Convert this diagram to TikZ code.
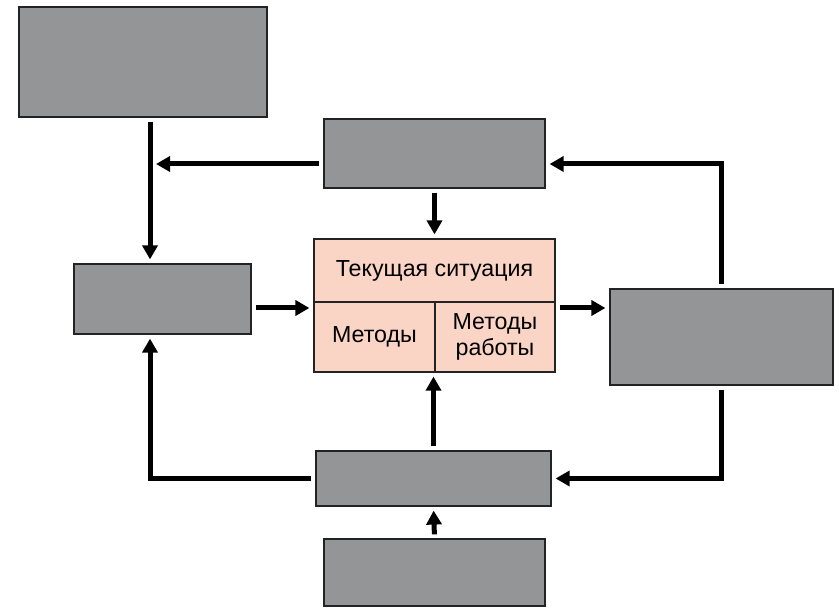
\documentclass[tikz,border=0pt]{standalone}
\usepackage{fontspec}
\setmainfont{Liberation Sans}
\usetikzlibrary{arrows.meta}
\definecolor{boxgray}{RGB}{148,149,151}
\definecolor{peach}{RGB}{250,212,196}
\definecolor{edgegray}{RGB}{35,35,35}

\begin{document}
\begin{tikzpicture}[x=0.5pt,y=-0.5pt,
  block/.style={draw=edgegray,fill=boxgray,line width=0.6pt,inner sep=0pt},
  cell/.style={draw=edgegray,fill=peach,line width=0.6pt,inner sep=0pt,align=center,
    font=\fontsize{11.6}{13}\selectfont},
  arr/.style={line width=2.5pt,-{Triangle[length=7pt,width=7.5pt]},shorten <=2pt,shorten >=2pt}]
  \useasboundingbox (0,0) rectangle (839,608);
  \node[block,minimum width=124pt,minimum height=55pt] (boxA) at (143,62) {};
  \node[block,minimum width=110.5pt,minimum height=34.5pt] (boxB) at (434.5,153.5) {};
  \node[block,minimum width=88.5pt,minimum height=35pt] (boxC) at (162.5,299) {};
  \node[block,minimum width=111.5pt,minimum height=48pt] (boxD) at (721.5,337) {};
  \node[block,minimum width=117.5pt,minimum height=27.5pt] (boxE) at (433.5,478.5) {};
  \node[block,minimum width=110.5pt,minimum height=33.5pt] (boxF) at (434.5,572.5) {};
  \node[cell,minimum width=120.5pt,minimum height=31.5pt] (cur) at (434.5,270.5) {Текущая ситуация};
  \node[cell,minimum width=60.5pt,minimum height=35pt] (meth) at (374.5,337) {Методы};
  \node[cell,minimum width=60pt,minimum height=35pt] (work) at (495,337) {Методы\\работы};
  \coordinate (j1) at (150,164);
  \draw[arr] (boxA.south -| j1) -- (boxC.north -| j1);
  \draw[arr,shorten >=3pt] ([yshift=-5.25pt]boxB.west) -- (j1);
  \draw[arr] (boxB.south) -- (boxB.south |- cur.north);
  \draw[arr] ([yshift=-4.5pt]boxC.east) -- ([yshift=-4.5pt]boxC.east -| cur.west);
  \draw[arr] ([yshift=-4.5pt]boxC.east -| cur.east) -- ([yshift=-4.5pt]boxC.east -| boxD.west);
  \draw[arr] (boxD.north) |- ([yshift=-5.25pt]boxB.east);
  \draw[arr] (boxD.south) |- (boxE.east);
  \draw[arr] (boxE.west) -| (boxC.south -| j1);
  \draw[arr] (boxE.north) -- (boxE.north |- meth.south);
  \draw[arr] (boxF.north) -- (boxE.south);
\end{tikzpicture}
\end{document}
